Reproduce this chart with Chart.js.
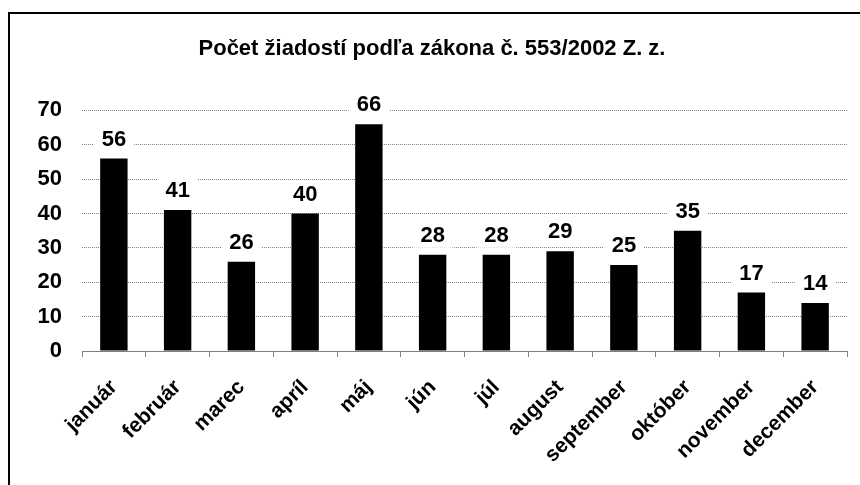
<!DOCTYPE html>
<html lang="sk">
<head>
<meta charset="UTF-8" />
<title>Počet žiadostí</title>
<script src="https://cdn.jsdelivr.net/npm/chart.js"></script>
<style>
  html, body { margin: 0; padding: 0; background: #fff; overflow: hidden; }
  .ram { position: absolute; left: 8px; top: 12px; width: 1000px; height: 600px;
         border-left: 2px solid #000; border-top: 2px solid #000; }
  .box { position: absolute; left: 17px; top: 0; width: 843px; height: 485px; }
</style>
</head>
<body>
<div class="ram"></div>
<div class="box"><canvas id="graf" width="843" height="485"></canvas></div>
<script>
// udaje z grafu
const mesiace = ["január", "február", "marec", "apríl", "máj", "jún", "júl",
                 "august", "september", "október", "november", "december"];
const ziadosti = [56, 41, 26, 40, 66, 28, 28, 29, 25, 35, 17, 14];
const nadpis = "Počet žiadostí podľa zákona č. 553/2002 Z. z.";
const osY = { min: 0, max: 70, krok: 10 };

const pismo = "'Liberation Sans', Arial, sans-serif";

// hodnoty nad stlpcami s bielym podkladom
const hodnoty = {
  id: "hodnoty",
  afterDatasetsDraw(chart) {
    const ctx = chart.ctx;
    const meta = chart.getDatasetMeta(0);
    ctx.save();
    ctx.font = "bold 22px " + pismo;
    ctx.textAlign = "center";
    ctx.textBaseline = "middle";
    meta.data.forEach((bar, i) => {
      const txt = String(chart.data.datasets[0].data[i]);
      const w = ctx.measureText(txt).width + 16;
      const y = bar.y - 20;
      ctx.fillStyle = "#fff";
      ctx.fillRect(bar.x - w / 2, y - 13, w, 26);
      ctx.fillStyle = "#000";
      ctx.fillText(txt, bar.x, y + 1);
    });
    ctx.restore();
  }
};

new Chart(document.getElementById("graf"), {
  type: "bar",
  data: {
    labels: mesiace,
    datasets: [{
      data: ziadosti,
      backgroundColor: "#000",
      borderWidth: 0,
      barPercentage: 0.43,
      categoryPercentage: 1
    }]
  },
  options: {
    responsive: false,
    animation: false,
    layout: { padding: { left: 0, right: 13, top: 0, bottom: 0 } },
    plugins: {
      legend: { display: false },
      tooltip: { enabled: false },
      title: {
        display: true,
        text: nadpis,
        color: "#000",
        font: { family: pismo, size: 22, weight: "bold" },
        padding: { top: 36, bottom: 48 }
      }
    },
    scales: {
      x: {
        grid: { offset: true, drawOnChartArea: false, drawTicks: true, tickLength: 6, color: "#808080" },
        border: { display: true, color: "#808080", width: 1 },
        ticks: {
          color: "#000",
          font: { family: pismo, size: 21, weight: "bold" },
          maxRotation: 45, minRotation: 45,
          padding: 18
        },
        afterFit(s) { s.height = 134; }
      },
      y: {
        min: osY.min, max: osY.max,
        ticks: {
          stepSize: osY.krok,
          color: "#000",
          font: { family: pismo, size: 22, weight: "bold" },
          padding: 20
        },
        grid: { color: "#808080", drawTicks: false },
        border: { display: false, dash: [1, 1] },
        afterFit(s) { s.width = 65; }
      }
    }
  },
  plugins: [hodnoty]
});
</script>
</body>
</html>
